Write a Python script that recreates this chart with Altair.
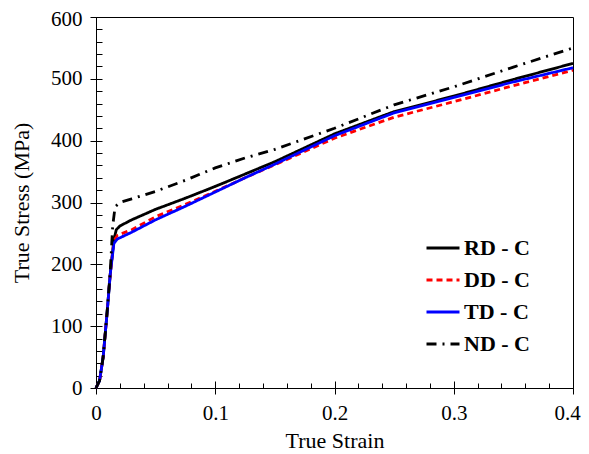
import altair as alt
import pandas as pd

series_names = ["RD - C", "DD - C", "TD - C", "ND - C"]

rd_strain = [0, 0.003, 0.006, 0.009, 0.012, 0.015, 0.017, 0.02, 0.03, 0.05, 0.075, 0.1, 0.125, 0.15, 0.2, 0.25, 0.3, 0.35, 0.4]
rd_stress = [0, 12, 50, 115, 185, 240, 256, 262, 272, 289, 307, 326, 346, 366, 411, 447, 472, 499, 525]

dd_strain = [0, 0.003, 0.006, 0.009, 0.012, 0.015, 0.018, 0.03, 0.05, 0.075, 0.1, 0.125, 0.15, 0.2, 0.25, 0.3, 0.35, 0.4]
dd_stress = [0, 12, 50, 115, 185, 238, 247, 256, 277, 297, 318, 340, 361, 404, 438, 463, 489, 514]

td_strain = [0, 0.003, 0.006, 0.009, 0.012, 0.015, 0.018, 0.03, 0.05, 0.075, 0.1, 0.125, 0.15, 0.2, 0.25, 0.3, 0.35, 0.4]
td_stress = [0, 12, 50, 115, 185, 234, 241, 252, 272, 294, 317, 340, 362, 408, 445, 470, 495, 518]

nd_strain = [0, 0.003, 0.006, 0.009, 0.012, 0.014, 0.016, 0.02, 0.03, 0.05, 0.075, 0.1, 0.125, 0.15, 0.2, 0.25, 0.3, 0.35, 0.4]
nd_stress = [0, 12, 50, 115, 190, 262, 293, 300, 306, 318, 336, 356, 372, 386, 420, 458, 487, 519, 550]

x_major = [0, 0.1, 0.2, 0.3, 0.4]
x_minor = [0.02, 0.04, 0.06, 0.08, 0.12, 0.14, 0.16, 0.18, 0.22, 0.24, 0.26, 0.28, 0.32, 0.34, 0.36, 0.38]
y_major = [0, 100, 200, 300, 400, 500, 600]
y_minor = [v for v in range(20, 600, 20) if v % 100 != 0]

colors = ["#000000", "#ff0000", "#0000ff", "#000000"]
dashes = [[1, 0], [6, 4], [1, 0], [10, 6, 2, 6]]

rows = []
for name, xs, ys in zip(series_names,
                        [rd_strain, dd_strain, td_strain, nd_strain],
                        [rd_stress, dd_stress, td_stress, nd_stress]):
    for i, (a, b) in enumerate(zip(xs, ys)):
        rows.append({"series": name, "strain": a, "stress": b, "order": i})
df = pd.DataFrame(rows)

FONT = "Liberation Serif"
xs = alt.Scale(domain=[0, 0.4], nice=False, zero=False)
ys = alt.Scale(domain=[0, 600], nice=False, zero=False)

legend = alt.Legend(
    orient="none", legendX=329, legendY=213, title=None,
    symbolType="stroke", symbolSize=1089, symbolStrokeWidth=2.8,
    labelFont=FONT, labelFontSize=22, labelFontWeight="bold",
    labelColor="black", rowPadding=3, labelOffset=3,
)

lines = alt.Chart(df).mark_line(strokeWidth=2.8).encode(
    x=alt.X("strain:Q", scale=xs, axis=alt.Axis(
        orient="bottom", values=x_major, format="~g", title="True Strain",
        tickSize=6, labelPadding=8, titlePadding=7, labelFlush=False, grid=False,
        labelOffset={"condition": {"test": "datum.value > 0.39", "value": -6}, "value": 0})),
    y=alt.Y("stress:Q", scale=ys, axis=alt.Axis(
        orient="left", values=y_major, format="d", title="True Stress (MPa)",
        tickSize=6, labelPadding=8, titlePadding=17, labelFlush=False, grid=False,
        labelOffset={"condition": {"test": "datum.value > 590", "value": 2}, "value": 0})),
    color=alt.Color("series:N", scale=alt.Scale(domain=series_names, range=colors), legend=legend),
    strokeDash=alt.StrokeDash("series:N", scale=alt.Scale(domain=series_names, range=dashes), legend=legend),
    order="order:Q",
)

inner_major = alt.Chart(df).mark_point(opacity=0).encode(
    x=alt.X("strain:Q", scale=xs, axis=alt.Axis(
        orient="bottom", values=x_major, labels=False, domain=False, title=None,
        tickSize=7, offset=-7, grid=False)),
    y=alt.Y("stress:Q", scale=ys, axis=alt.Axis(
        orient="left", values=y_major, labels=False, domain=False, title=None,
        tickSize=6, offset=-6, grid=False)),
)

inner_minor = alt.Chart(df).mark_point(opacity=0).encode(
    x=alt.X("strain:Q", scale=xs, axis=alt.Axis(
        orient="bottom", values=x_minor, labels=False, domain=False, title=None,
        tickSize=5, offset=-5, grid=False)),
    y=alt.Y("stress:Q", scale=ys, axis=alt.Axis(
        orient="left", values=y_minor, labels=False, domain=False, title=None,
        tickSize=6, offset=-6, grid=False)),
)

chart = alt.layer(lines, inner_major, inner_minor).resolve_axis(
    x="independent", y="independent"
).properties(
    width=477, height=371,
    autosize=alt.AutoSizeParams(type="none"),
    padding={"left": 88, "top": 9, "right": 8, "bottom": 66},
).configure_view(
    stroke="black", strokeWidth=1
).configure_axis(
    domainColor="black", tickColor="black", labelColor="black", titleColor="black",
    labelFont=FONT, titleFont=FONT, labelFontSize=21, titleFontSize=22,
    titleFontWeight="normal", domainWidth=1, tickWidth=1,
)

chart.save("out.html", embed_options={"renderer": "svg", "actions": False})
